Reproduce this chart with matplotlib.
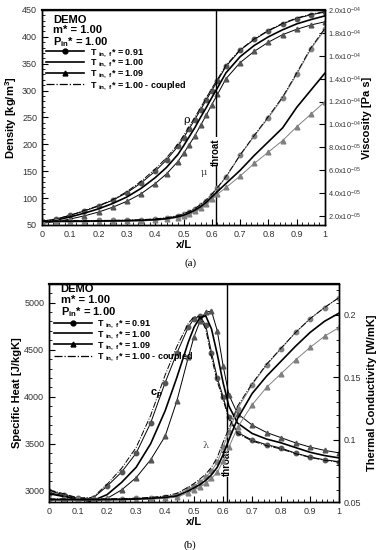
import numpy as np
import matplotlib
matplotlib.use('Agg')
import matplotlib.pyplot as plt
from matplotlib.lines import Line2D
from matplotlib.ticker import MultipleLocator, FixedLocator, FuncFormatter

plt.rcParams['font.family'] = ['Liberation Sans', 'DejaVu Sans']
plt.rcParams['mathtext.fontset'] = 'custom'
plt.rcParams['mathtext.rm'] = 'Liberation Sans'
plt.rcParams['mathtext.bf'] = 'Liberation Sans:bold'

# data
x = [0, 0.05, 0.1, 0.15, 0.2, 0.25, 0.3, 0.35, 0.4, 0.44, 0.48, 0.5, 0.52,
     0.54, 0.56, 0.58, 0.6, 0.62, 0.65, 0.7, 0.75, 0.8, 0.85, 0.9, 0.95, 1.0]

# (a) density [kg/m3]
rho_091 = [57, 61, 68, 76, 85, 96, 110, 128, 150, 171, 196, 212, 229, 246, 264, 282, 300, 318, 345, 375, 395, 411, 424, 434, 441, 446]
rho_100 = [55, 59, 65, 72, 80, 90, 102, 118, 138, 157, 181, 197, 214, 231, 250, 268, 287, 305, 333, 363, 384, 400, 413, 424, 432, 439]
rho_109 = [53, 56, 61, 67, 74, 83, 94, 108, 127, 145, 168, 183, 199, 216, 235, 254, 274, 293, 322, 352, 373, 390, 404, 414, 422, 428]
rho_cpl = [57, 61, 68, 77, 86, 97, 112, 131, 154, 175, 200, 216, 233, 250, 268, 286, 304, 321, 347, 376, 396, 412, 425, 435, 442, 447]

# (a) viscosity [1e-5 Pa s]
mu_091 = [1.60, 1.60, 1.60, 1.61, 1.62, 1.63, 1.65, 1.68, 1.74, 1.84, 2.02, 2.17, 2.38, 2.64, 2.96, 3.36, 3.88, 4.45, 5.4, 7.3, 9.0, 10.6, 12.3, 14.4, 16.6, 18.3]
mu_100 = [1.55, 1.55, 1.55, 1.56, 1.57, 1.58, 1.60, 1.63, 1.69, 1.78, 1.95, 2.08, 2.28, 2.52, 2.82, 3.20, 3.68, 4.15, 4.85, 6.0, 7.3, 8.5, 9.7, 11.5, 13.0, 14.5]
mu_109 = [1.50, 1.50, 1.50, 1.51, 1.52, 1.53, 1.55, 1.58, 1.64, 1.72, 1.88, 2.00, 2.20, 2.42, 2.70, 3.05, 3.50, 3.92, 4.5, 5.5, 6.6, 7.6, 8.6, 9.8, 10.9, 12.0]
mu_cpl = [1.60, 1.60, 1.60, 1.61, 1.62, 1.63, 1.65, 1.69, 1.76, 1.86, 2.05, 2.20, 2.41, 2.67, 3.00, 3.40, 3.92, 4.50, 5.45, 7.35, 9.05, 10.7, 12.4, 14.5, 16.7, 18.4]

# (b) specific heat [J/kgK]
cp_091 = [3000, 2960, 2920, 2920, 3050, 3200, 3400, 3720, 4150, 4460, 4740, 4830, 4860, 4760, 4470, 4200, 4000, 3780, 3620, 3540, 3490, 3455, 3400, 3360, 3330, 3310]
cp_100 = [2970, 2940, 2905, 2895, 2960, 3090, 3250, 3500, 3850, 4200, 4580, 4740, 4840, 4860, 4720, 4450, 4150, 3900, 3720, 3610, 3550, 3510, 3460, 3410, 3375, 3350]
cp_109 = [2980, 2950, 2910, 2880, 2920, 3010, 3140, 3330, 3580, 3950, 4420, 4640, 4800, 4900, 4910, 4700, 4330, 4020, 3820, 3700, 3620, 3565, 3510, 3465, 3430, 3404]
cp_cpl = [3010, 2970, 2925, 2930, 3070, 3240, 3460, 3800, 4230, 4530, 4780, 4850, 4850, 4720, 4420, 4160, 3970, 3760, 3610, 3530, 3480, 3445, 3395, 3355, 3325, 3305]

# (b) thermal conductivity [W/mK]
lam_091 = [0.0525, 0.0525, 0.0525, 0.0525, 0.0526, 0.0527, 0.0530, 0.0535, 0.0545, 0.0560, 0.0605, 0.0630, 0.0660, 0.0700, 0.0750, 0.0820, 0.0940, 0.1060, 0.1250, 0.1440, 0.1600, 0.1730, 0.1860, 0.1970, 0.2060, 0.2140]
lam_100 = [0.0520, 0.0520, 0.0520, 0.0520, 0.0521, 0.0522, 0.0525, 0.0530, 0.0538, 0.0550, 0.0590, 0.0615, 0.0640, 0.0675, 0.0720, 0.0780, 0.0880, 0.1000, 0.1170, 0.1370, 0.1510, 0.1630, 0.1750, 0.1860, 0.1950, 0.2015]
lam_109 = [0.0515, 0.0515, 0.0515, 0.0515, 0.0516, 0.0517, 0.0520, 0.0524, 0.0530, 0.0540, 0.0575, 0.0600, 0.0620, 0.0650, 0.0690, 0.0740, 0.0830, 0.0940, 0.1100, 0.1280, 0.1420, 0.1530, 0.1640, 0.1740, 0.1830, 0.1900]
lam_cpl = [0.0526, 0.0526, 0.0526, 0.0526, 0.0527, 0.0528, 0.0532, 0.0538, 0.0550, 0.0570, 0.0620, 0.0650, 0.0685, 0.0725, 0.0780, 0.0860, 0.0980, 0.1090, 0.1270, 0.1450, 0.1605, 0.1735, 0.1860, 0.1970, 0.2060, 0.2140]

x_throat = 0.613
legend_labels = [r'T $_{\mathbf{in,\ f}}$* = 0.91', r'T $_{\mathbf{in,\ f}}$* = 1.00',
                 r'T $_{\mathbf{in,\ f}}$* = 1.09', r'T $_{\mathbf{in,\ f}}$* = 1.00 - coupled']

dark = '#555555'
light = '#808080'


def draw_set(ax, y91, y100, y109, ycpl, mcol, lcol):
    ax.plot(x, y91, color=lcol, lw=0.7, marker='o', ms=3.2, mfc=mcol, mec=mcol)
    ax.plot(x, y109, color=lcol, lw=0.7, marker='^', ms=3.4, mfc=mcol, mec=mcol)
    ax.plot(x, ycpl, color='black', lw=0.7, ls='-.')
    ax.plot(x, y100, color='black', lw=1.2)


def sci_fmt(v, pos):
    e = int(np.floor(np.log10(v) + 1e-9))
    m = v / 10 ** e
    return '%.1fx10$^{-%02d}$' % (m, -e)


def style(ax):
    ax.tick_params(which='both', direction='in', labelsize=6.5, colors='black', labelcolor='#333333')
    ax.tick_params(which='major', length=4)
    ax.tick_params(which='minor', length=2)
    for s in ax.spines.values():
        s.set_linewidth(1.0)


def header(ax, ypos, step):
    y0 = ypos
    for t in ['DEMO', 'm* = 1.00', r'P$_{\mathbf{in}}$* = 1.00']:
        ax.text(0.04, y0, t, transform=ax.transAxes, fontsize=8, fontweight='bold', va='top')
        y0 -= step
    handles = [Line2D([], [], color='black', lw=1.2, marker='o', ms=3.5),
               Line2D([], [], color='black', lw=1.2),
               Line2D([], [], color='black', lw=1.2, marker='^', ms=3.5),
               Line2D([], [], color='black', lw=0.9, ls='-.')]
    leg = ax.legend(handles, legend_labels, loc='upper left', bbox_to_anchor=(0.0, y0 + 0.012),
                    frameon=False, fontsize=6.5, handlelength=4.2, handletextpad=0.6,
                    labelspacing=-0.12, borderaxespad=0.3, borderpad=0.2)
    for t in leg.get_texts():
        t.set_fontweight('bold')


fig = plt.figure(figsize=(3.78, 5.5), dpi=100)

# ---------- (a) ----------
ax1 = fig.add_axes([0.111, 0.591, 0.749, 0.391])
ax1r = ax1.twinx()
draw_set(ax1, rho_091, rho_100, rho_109, rho_cpl, dark, 'black')
mu = lambda a: [v * 1e-5 for v in a]
draw_set(ax1r, mu(mu_091), mu(mu_100), mu(mu_109), mu(mu_cpl), light, light)
ax1.set_xlim(0, 1)
ax1.set_ylim(50, 450)
ax1r.set_ylim(1.23e-5, 2.0e-4)
ax1.xaxis.set_major_locator(MultipleLocator(0.1))
ax1.xaxis.set_minor_locator(MultipleLocator(0.02))
ax1.yaxis.set_major_locator(MultipleLocator(50))
ax1.yaxis.set_minor_locator(MultipleLocator(10))
ax1.xaxis.set_major_formatter(FuncFormatter(lambda v, p: '%g' % round(v, 2)))
ax1r.yaxis.set_major_locator(FixedLocator([2e-5 * k for k in range(1, 11)]))
ax1r.yaxis.set_major_formatter(FuncFormatter(sci_fmt))
style(ax1)
style(ax1r)
ax1r.tick_params(labelsize=5.3, pad=2)
ax1.spines['top'].set_linewidth(1.6)
ax1.set_xlabel('x/L', fontsize=8, fontweight='bold', labelpad=1)
ax1.set_ylabel('Density [kg/m$^\\mathbf{3}$]', fontsize=8, fontweight='bold', labelpad=2)
ax1r.set_ylabel('Viscosity [Pa s]', fontsize=8, fontweight='bold', labelpad=1)
ax1.axvline(x_throat, color='black', lw=1.0)
ax1.text(x_throat, 186, 'throat', rotation=90, ha='center', va='center', fontsize=7,
         fontweight='bold', bbox=dict(facecolor='white', edgecolor='none', pad=0.5))
ax1.text(0.51, 246, 'ρ', family='DejaVu Serif', fontsize=8, ha='center', va='center')
ax1.text(0.57, 147, 'μ', family='DejaVu Serif', fontsize=7, ha='center', va='center', color='#444444')
header(ax1, 0.975, 0.046)

# ---------- (b) ----------
ax2 = fig.add_axes([0.130, 0.087, 0.767, 0.397])
ax2r = ax2.twinx()
draw_set(ax2, cp_091, cp_100, cp_109, cp_cpl, dark, 'black')
draw_set(ax2r, lam_091, lam_100, lam_109, lam_cpl, light, light)
ax2.set_xlim(0, 1)
ax2.set_ylim(2880, 5200)
ax2r.set_ylim(0.05, 0.225)
ax2.xaxis.set_major_locator(MultipleLocator(0.1))
ax2.xaxis.set_minor_locator(MultipleLocator(0.02))
ax2.xaxis.set_major_formatter(FuncFormatter(lambda v, p: '%g' % round(v, 2)))
ax2.yaxis.set_major_locator(MultipleLocator(500))
ax2.yaxis.set_minor_locator(MultipleLocator(100))
ax2r.yaxis.set_major_locator(FixedLocator([0.05, 0.1, 0.15, 0.2]))
ax2r.yaxis.set_minor_locator(MultipleLocator(0.01))
ax2r.yaxis.set_major_formatter(FuncFormatter(lambda v, p: '%g' % round(v, 2)))
style(ax2)
style(ax2r)
ax2.spines['top'].set_linewidth(1.6)
ax2.set_xlabel('x/L', fontsize=8, fontweight='bold', labelpad=1)
ax2.set_ylabel('Specific Heat [J/kgK]', fontsize=8, fontweight='bold', labelpad=2)
ax2r.set_ylabel('Thermal Conductivity [W/mK]', fontsize=8, fontweight='bold', labelpad=4)
ax2.axvline(x_throat, color='black', lw=1.0)
ax2.text(x_throat, 3300, 'throat', rotation=90, ha='center', va='center', fontsize=7,
         fontweight='bold', bbox=dict(facecolor='white', edgecolor='none', pad=0.5))
ax2.text(0.37, 4020, r'c$_\mathbf{p}$', fontsize=8, fontweight='bold', ha='center', va='center')
ax2.text(0.54, 3480, 'λ', family='DejaVu Serif', fontsize=7, ha='center', va='center', color='#555555')
header(ax2, 1.0, 0.05)

fig.text(0.503, 0.522, '(a)', family='Liberation Serif', fontsize=8, ha='center', va='center')
fig.text(0.503, 0.009, '(b)', family='Liberation Serif', fontsize=8, ha='center', va='center')

fig.savefig('out.png', dpi=100)
